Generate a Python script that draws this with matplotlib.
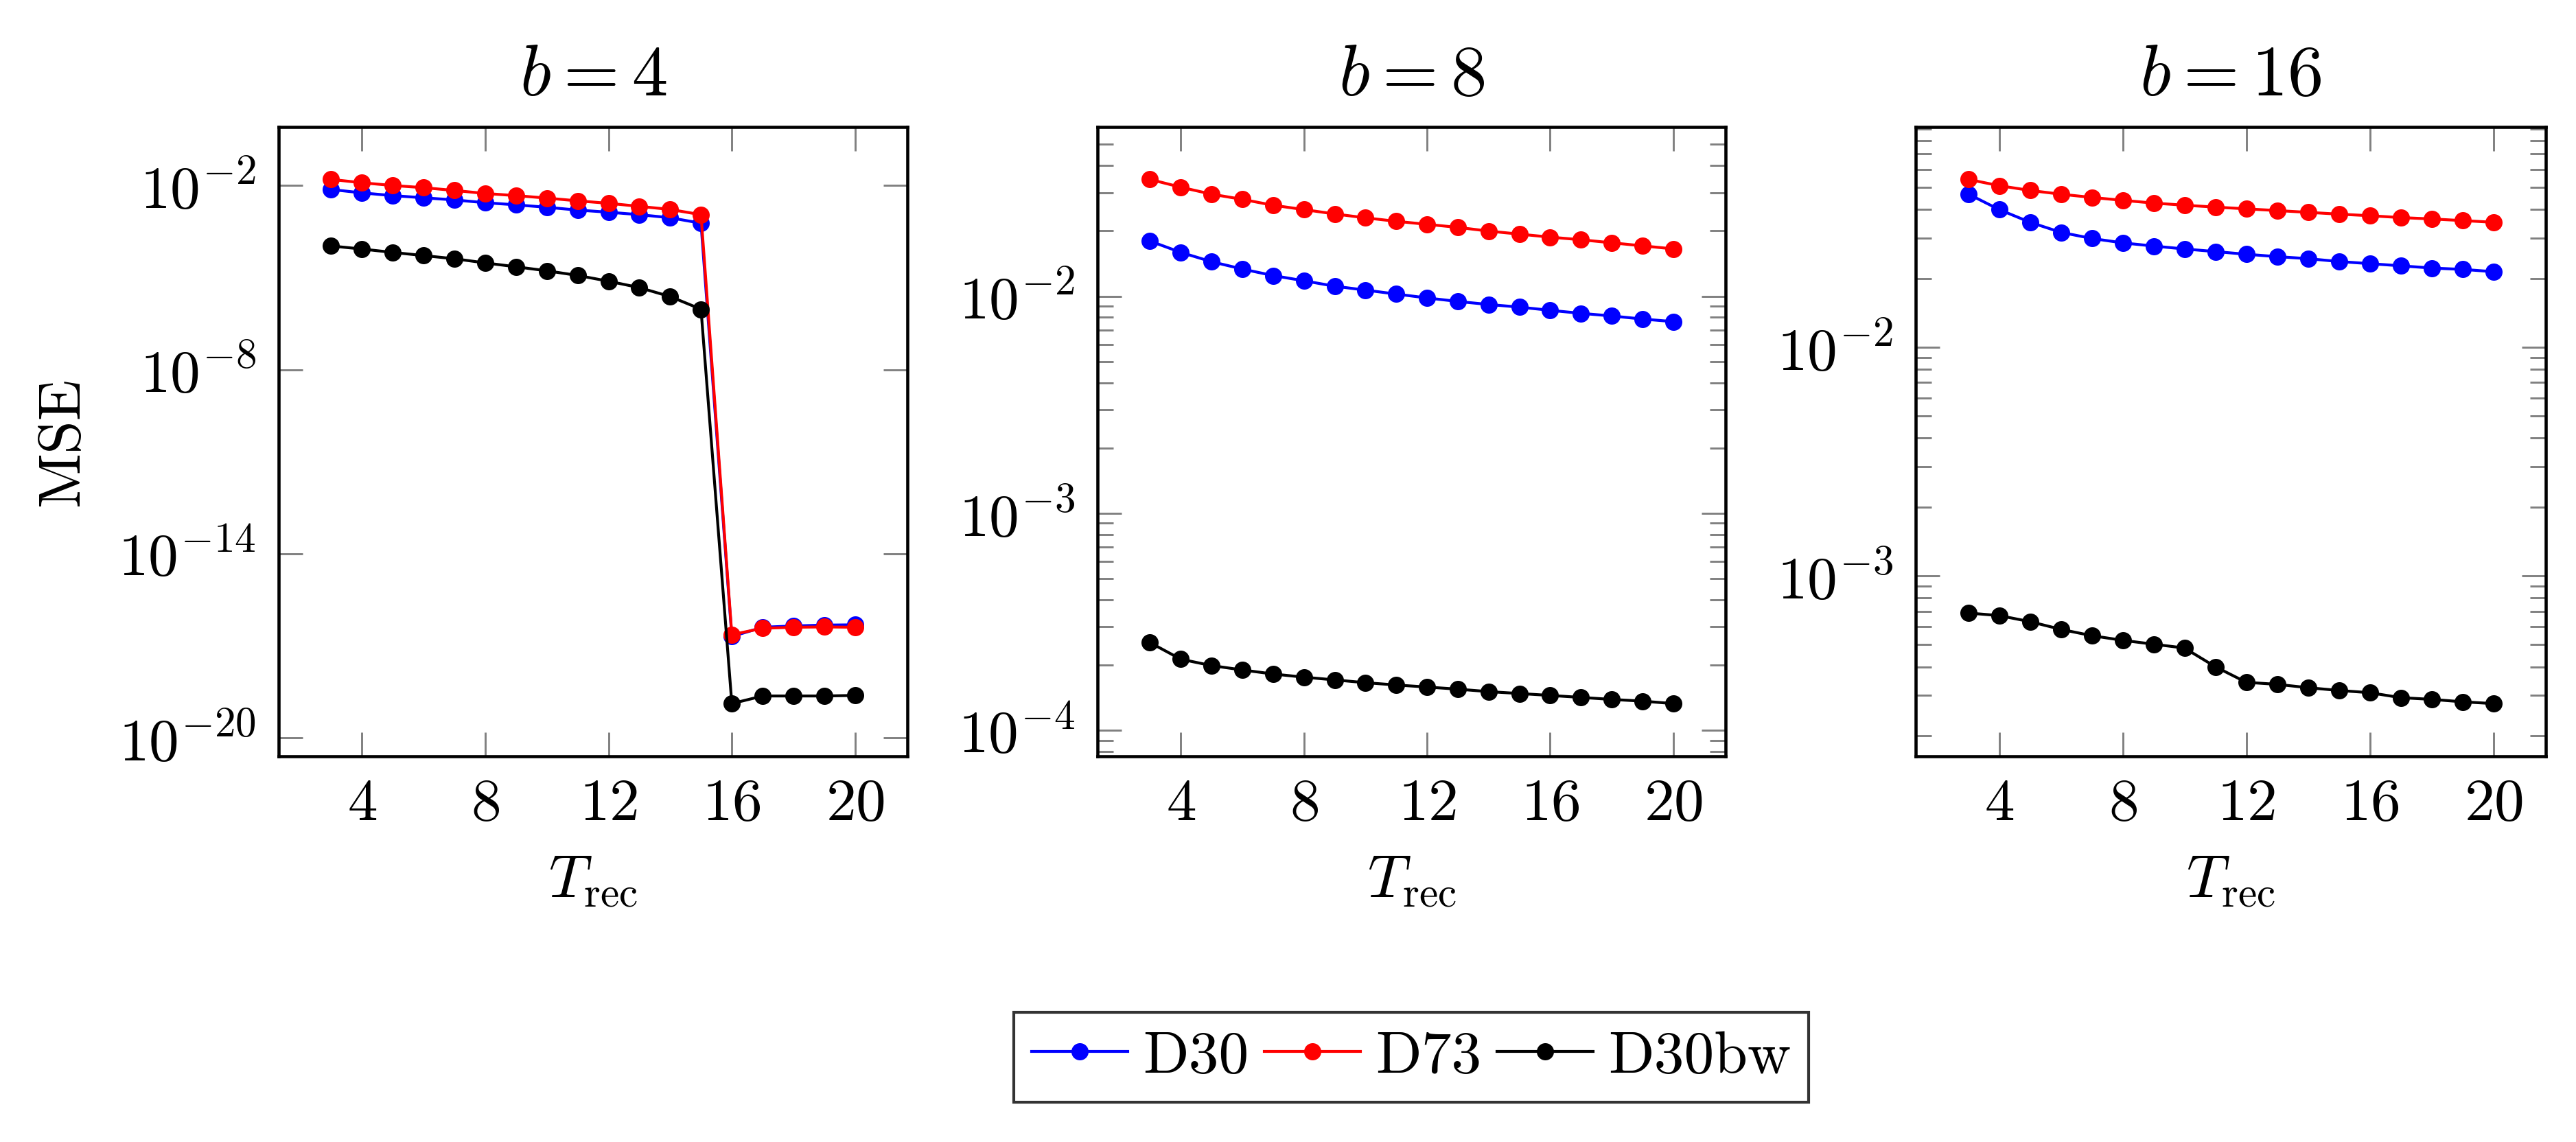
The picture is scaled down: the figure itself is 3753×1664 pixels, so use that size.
import numpy as np
import matplotlib
matplotlib.use("Agg")
import matplotlib.pyplot as plt
from matplotlib.ticker import FixedLocator, NullLocator, LogLocator, LogFormatterSciNotation

# Data
t_rec = list(range(3, 21))
block_sizes = [4, 8, 16]

# b = 4
d30_b4 = [7.41e-3, 5.75e-3, 4.68e-3, 3.98e-3, 3.39e-3, 2.75e-3, 2.34e-3, 1.95e-3, 1.58e-3,
          1.35e-3, 1.12e-3, 8.9e-4, 5.9e-4, 2.0e-17, 4.0e-17, 4.4e-17, 4.7e-17, 4.8e-17]
d73_b4 = [1.58e-2, 1.23e-2, 1.0e-2, 8.5e-3, 6.9e-3, 5.5e-3, 4.68e-3, 3.89e-3, 3.16e-3,
          2.63e-3, 2.09e-3, 1.66e-3, 1.12e-3, 2.3e-17, 3.7e-17, 4.0e-17, 4.1e-17, 4.0e-17]
d30bw_b4 = [1.07e-4, 8.5e-5, 6.6e-5, 5.2e-5, 4.1e-5, 3.0e-5, 2.24e-5, 1.66e-5, 1.17e-5,
            7.6e-6, 4.7e-6, 2.4e-6, 9.3e-7, 1.3e-19, 2.3e-19, 2.3e-19, 2.3e-19, 2.4e-19]

# b = 8
d30_b8 = [0.01795, 0.01592, 0.01442, 0.01334, 0.01245, 0.01178, 0.01112, 0.01067, 0.01023,
          0.00982, 0.00946, 0.00916, 0.00891, 0.00861, 0.00834, 0.00811, 0.00785, 0.00764]
d73_b8 = [0.03451, 0.03177, 0.02951, 0.02793, 0.02624, 0.02506, 0.02393, 0.02296, 0.02213,
          0.02143, 0.02075, 0.01995, 0.01932, 0.01871, 0.01820, 0.01762, 0.01706, 0.01652]
d30bw_b8 = [2.54e-4, 2.13e-4, 1.99e-4, 1.90e-4, 1.82e-4, 1.76e-4, 1.71e-4, 1.66e-4, 1.62e-4,
            1.585e-4, 1.55e-4, 1.51e-4, 1.48e-4, 1.45e-4, 1.42e-4, 1.39e-4, 1.365e-4, 1.33e-4]

# b = 16
d30_b16 = [0.0468, 0.0400, 0.0352, 0.0318, 0.0299, 0.0286, 0.0277, 0.0269, 0.0262,
           0.0255, 0.0249, 0.0244, 0.0237, 0.0232, 0.0227, 0.0222, 0.0219, 0.0214]
d73_b16 = [0.0542, 0.0509, 0.0485, 0.0467, 0.0452, 0.0439, 0.0427, 0.0418, 0.0410,
           0.0403, 0.0396, 0.0389, 0.0382, 0.0376, 0.0369, 0.0364, 0.0358, 0.0352]
d30bw_b16 = [6.87e-4, 6.70e-4, 6.30e-4, 5.83e-4, 5.47e-4, 5.22e-4, 5.02e-4, 4.83e-4, 4.00e-4,
             3.42e-4, 3.35e-4, 3.24e-4, 3.15e-4, 3.08e-4, 2.93e-4, 2.88e-4, 2.81e-4, 2.76e-4]

series_names = ["D30", "D73", "D30bw"]
series_colors = ["blue", "red", "black"]
panels = [
    [d30_b4, d73_b4, d30bw_b4],
    [d30_b8, d73_b8, d30bw_b8],
    [d30_b16, d73_b16, d30bw_b16],
]
x_ticks = [4, 8, 12, 16, 20]

plt.rcParams["font.family"] = "serif"
plt.rcParams["font.serif"] = ["cmr10"]
plt.rcParams["mathtext.fontset"] = "cm"
plt.rcParams["axes.formatter.use_mathtext"] = True
plt.rcParams["font.size"] = 21
plt.rcParams["xtick.direction"] = "in"
plt.rcParams["ytick.direction"] = "in"
plt.rcParams["xtick.top"] = True
plt.rcParams["ytick.right"] = True

fig = plt.figure(figsize=(3753 / 300, 1664 / 300), dpi=300)

lefts = [0.1082, 0.4261, 0.7437]
widths = [0.2441, 0.2438, 0.2446]
bottom, height = 0.3380, 0.5508

handles = []
for i, b in enumerate(block_sizes):
    ax = fig.add_axes([lefts[i], bottom, widths[i], height])
    for vals, name, col in zip(panels[i], series_names, series_colors):
        h, = ax.plot(t_rec, vals, color=col, lw=1.0, marker="o", ms=5.0, label=name)
        if i == 0:
            handles.append(h)
    ax.set_yscale("log")

    # pgfplots-like axis enlargement (10 % of the range)
    xr = t_rec[-1] - t_rec[0]
    ax.set_xlim(t_rec[0] - 0.1 * xr, t_rec[-1] + 0.1 * xr)
    all_vals = np.log10(np.concatenate([np.asarray(v) for v in panels[i]]))
    lo, hi = all_vals.min(), all_vals.max()
    ax.set_ylim(10 ** (lo - 0.1 * (hi - lo)), 10 ** (hi + 0.1 * (hi - lo)))

    ax.xaxis.set_major_locator(FixedLocator(x_ticks))
    if i == 0:
        ax.yaxis.set_major_locator(FixedLocator([1e-20, 1e-14, 1e-8, 1e-2]))
        ax.yaxis.set_minor_locator(NullLocator())
    else:
        ax.yaxis.set_major_locator(LogLocator(base=10))
        ax.yaxis.set_minor_locator(LogLocator(base=10, subs=np.arange(2, 10)))
    ax.yaxis.set_major_formatter(LogFormatterSciNotation())

    ax.tick_params(which="major", length=8.4, width=0.7, color="#808080", pad=8)
    ax.tick_params(which="minor", length=5.5, width=0.7, color="#808080")
    for sp in ax.spines.values():
        sp.set_linewidth(1.1)

    ax.set_title(f"$b = {b}$", pad=11)
    ax.set_xlabel(r"$T_{\mathrm{rec}}$", labelpad=8)
    if i == 0:
        ax.set_ylabel("MSE", labelpad=10)

leg = fig.legend(handles=handles, loc="center", bbox_to_anchor=(0.5478, 0.0740),
                 ncol=3, frameon=True, fancybox=False, edgecolor="black",
                 handlelength=1.6, handletextpad=0.25, columnspacing=0.26,
                 borderpad=0.3, borderaxespad=0)
leg.get_frame().set_linewidth(1.0)

fig.savefig("out.png", dpi=300)
